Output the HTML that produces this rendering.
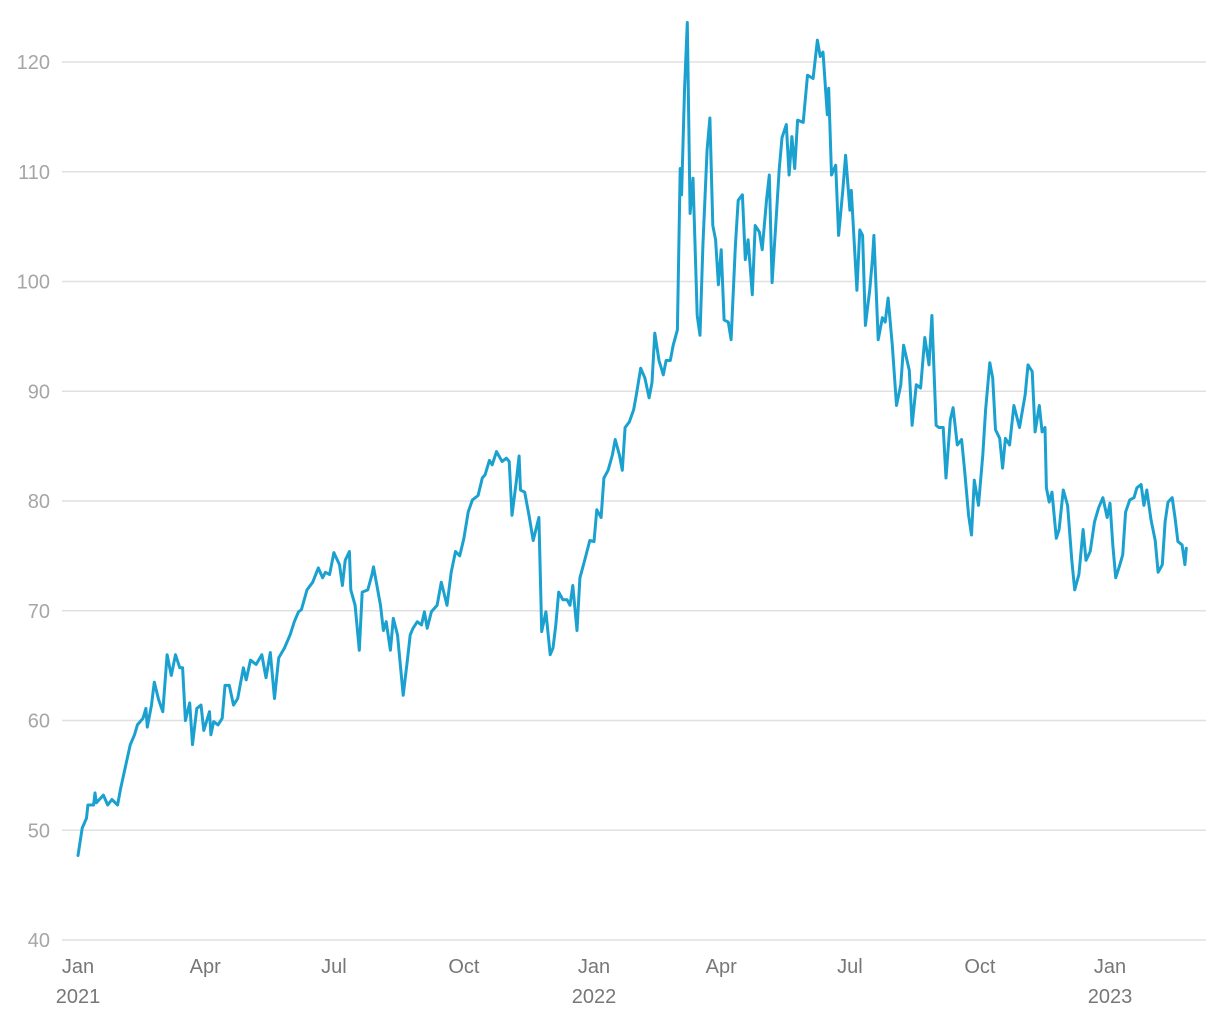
<!DOCTYPE html>
<html><head><meta charset="utf-8"><style>
html,body{margin:0;padding:0;background:#fff;}
svg{display:block;font-family:"Liberation Sans",sans-serif;}
</style></head><body>
<svg id="chart" width="1220" height="1020" xmlns="http://www.w3.org/2000/svg">
<g id="grid"></g>
<g id="yax"></g>
<g id="xax"></g>
<g id="plot"></g>
</svg>
<script>
const days = [0,3,6,7,11,12,13,18,21,24,28,30,33,37,40,42,46,48,49,52,54,57,60,63,66,69,72,74,76,79,81,84,87,89,93,94,96,99,102,104,107,110,113,117,119,122,126,130,133,136,139,142,146,150,153,156,158,162,166,170,173,175,178,181,185,187,189,192,193,196,199,201,205,208,209,214,216,218,221,223,226,230,233,235,237,240,243,245,247,250,254,257,261,264,267,270,273,276,279,283,286,288,291,293,296,300,303,305,307,310,312,313,316,319,322,326,328,331,334,336,338,340,343,346,348,350,353,355,358,362,365,367,370,372,375,378,380,383,385,387,390,393,395,398,401,404,406,408,411,414,416,419,421,424,426,427,429,431,433,435,438,440,442,445,447,449,451,453,455,457,460,462,465,467,470,472,474,477,479,482,484,487,489,491,494,496,498,501,503,505,507,509,513,516,520,523,525,527,530,531,533,536,538,541,543,546,547,551,553,555,557,560,562,563,566,569,571,573,576,579,582,584,588,590,593,596,599,602,604,607,609,612,614,617,619,622,625,627,630,632,634,637,640,642,645,647,649,652,654,656,659,662,666,670,672,675,677,680,682,684,685,687,689,692,694,697,700,703,705,708,711,713,716,719,722,725,728,730,732,734,737,739,741,744,747,749,752,754,756,759,762,764,767,769,771,774,776,778,781,783,784];
const values = [47.7,50.2,51.1,52.3,52.3,53.4,52.5,53.2,52.3,52.8,52.3,53.7,55.5,57.8,58.7,59.6,60.2,61.1,59.4,61.4,63.5,61.9,60.8,66.0,64.1,66.0,64.8,64.8,60.0,61.6,57.8,61.1,61.4,59.1,60.8,58.7,59.9,59.6,60.2,63.2,63.2,61.4,62.0,64.8,63.7,65.5,65.1,66.0,63.9,66.2,62.0,65.7,66.6,67.8,69.0,69.9,70.1,71.9,72.6,73.9,73.0,73.5,73.3,75.3,74.2,72.3,74.6,75.4,71.9,70.5,66.4,71.7,71.9,73.3,74.0,70.5,68.2,69.0,66.4,69.3,67.8,62.3,65.5,67.8,68.4,69.0,68.7,69.9,68.4,69.9,70.5,72.6,70.5,73.5,75.4,75.0,76.6,79.0,80.1,80.5,82.1,82.4,83.7,83.3,84.5,83.6,83.9,83.6,78.7,81.7,84.1,81.0,80.8,78.7,76.4,78.5,68.1,69.9,66.0,66.6,68.7,71.7,71.0,71.0,70.5,72.3,68.2,73.0,74.4,76.4,76.3,79.2,78.5,82.1,82.8,84.2,85.6,84.2,82.8,86.7,87.2,88.3,89.7,92.1,91.2,89.4,90.8,95.3,92.8,91.5,92.8,92.8,94.2,95.6,110.3,107.9,117.4,123.6,106.2,109.4,96.9,95.1,103.3,112.0,114.9,105.1,103.8,99.7,102.9,96.5,96.3,94.7,103.3,107.4,107.9,102.0,103.8,98.8,105.1,104.5,102.9,107.4,109.7,99.9,106.1,110.2,113.1,114.3,109.7,113.2,110.3,114.7,114.5,118.8,118.5,122.0,120.5,120.9,115.2,117.6,109.7,110.6,104.2,108.3,111.5,106.5,108.3,99.2,104.7,104.2,96.0,99.2,102.1,104.2,94.7,96.7,96.3,98.5,94.2,88.7,90.6,94.2,91.9,86.9,90.6,90.3,94.9,92.4,96.9,86.9,86.7,86.7,82.1,87.4,88.5,85.1,85.6,83.0,78.7,76.9,81.9,79.6,84.2,88.3,92.6,91.2,86.5,85.7,83.0,85.7,85.1,88.7,86.7,89.7,92.4,91.8,86.3,88.7,86.3,86.7,81.2,79.9,80.8,76.6,77.4,81.0,79.6,74.6,71.9,73.3,77.4,74.6,75.4,78.1,79.4,80.3,78.5,79.8,76.0,73.0,74.2,75.1,79.0,80.1,80.3,81.2,81.5,79.6,81.0,78.3,76.4,73.5,74.2,78.1,79.9,80.3,78.5,76.3,76.0,74.2,75.7];
const yTicks = [40,50,60,70,80,90,100,110,120];
const xTickDays = [0,90,181,273,365,455,546,638,730];
const xTickMonths = ["Jan","Apr","Jul","Oct","Jan","Apr","Jul","Oct","Jan"];
const xTickYears = ["2021","","","","2022","","","","2023"];

const NS="http://www.w3.org/2000/svg";
function y(v){return 940-(v-40)*10.975;}
function x(d){return 78+d*1.4137;}
function mk(tag,attrs,parent,txt){const e=document.createElementNS(NS,tag);for(const k in attrs)e.setAttribute(k,attrs[k]);if(txt!==undefined)e.textContent=txt;parent.appendChild(e);return e;}
const grid=document.getElementById('grid'),yax=document.getElementById('yax'),xax=document.getElementById('xax'),plot=document.getElementById('plot');
yTicks.forEach(t=>{
  const l=mk('line',{x1:62,x2:1206,y1:y(t),y2:y(t),stroke:'#e0e0e0','stroke-width':1.5},grid);
  
  
  const tx=mk('text',{x:50,y:y(t)+7,'text-anchor':'end','font-size':20,fill:'#a6a6a6'},yax,String(t));
  
  
});
xTickDays.forEach((d,i)=>{
  const t1=mk('text',{x:x(d),y:973,'text-anchor':'middle','font-size':20,fill:'#777'},xax,xTickMonths[i]);
  
  
  if(xTickYears[i]){
    const t2=mk('text',{x:x(d),y:1003,'text-anchor':'middle','font-size':20,fill:'#777'},xax,xTickYears[i]);
    
    
  }
});
let dstr=days.map((d,i)=>(i?'L':'M')+x(d).toFixed(1)+','+y(values[i]).toFixed(1)).join('');
const p=mk('path',{d:dstr,fill:'none',stroke:'#1ba1d0','stroke-width':3,'stroke-linejoin':'round','stroke-linecap':'round'},plot);


</script>
</body></html>
